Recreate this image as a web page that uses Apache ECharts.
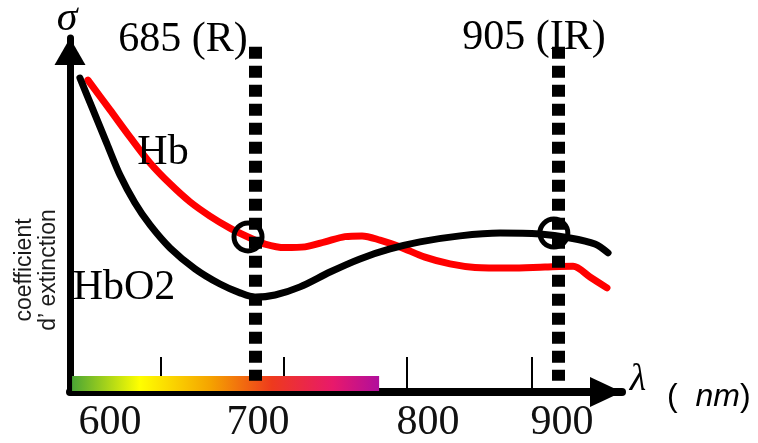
<!DOCTYPE html>
<html>
<head>
<meta charset="utf-8">
<script src="https://cdn.jsdelivr.net/npm/echarts@6/dist/echarts.min.js"></script>
<style>
  html, body { margin: 0; padding: 0; background: #fff; }
  #chart { width: 758px; height: 443px; }
</style>
</head>
<body>
<div id="chart"></div>
<script>
// wavelength (nm) / extinction (arbitrary units, 0-100)
const hbWavelength = [564.0, 580.0, 594.5, 609.0, 623.5, 638.0, 652.4, 666.9, 680.0, 692.3, 706.8, 721.3, 735.8, 750.3, 762.6, 775.6, 790.1, 808.2, 826.4, 844.5, 869.8, 895.2, 915.5, 927.8, 940.1]
const hbValues = [88.1, 79.7, 72.0, 64.7, 58.8, 53.7, 49.7, 46.3, 43.8, 41.8, 40.8, 41.0, 42.4, 43.9, 44.1, 42.9, 41.0, 38.1, 36.2, 35.2, 35.0, 35.3, 35.5, 32.5, 29.4]

const hbo2Wavelength = [558.2, 567.7, 577.8, 587.2, 598.1, 609.0, 623.5, 641.6, 659.7, 674.2, 685.1, 699.6, 717.7, 739.4, 761.1, 782.9, 804.6, 833.6, 862.6, 891.6, 913.3, 931.4, 940.9]
const hbo2Values = [88.7, 79.7, 70.1, 61.3, 53.4, 47.2, 40.7, 34.8, 30.5, 28.0, 26.8, 27.4, 29.7, 33.9, 37.6, 40.4, 42.4, 44.1, 44.9, 44.6, 43.5, 41.8, 39.3]

// the two LED wavelengths and the circled points on the curves
const ledWavelengths = [685, 905]
const circledPoints = [[680, 43.8], [901.6, 44.9]]

// axis ticks / labels as drawn (hand-made figure, labels are not under the ticks)
const xTickPos = [616.9, 706.1, 795.2, 885.8]
const xLabelPos = [580, 687.2, 810.4, 907.5]
const xTickLabels = ['600', '700', '800', '900']

// visible spectrum strip along the axis
const spectrumRange = [552.5, 775]
const spectrumHeight = [0.3, 4.5]

const toXY = (xs, ys) => xs.map((x, i) => [x, ys[i]])

const chartDom = document.getElementById('chart')
const myChart = echarts.init(chartDom)

const serif = '"Liberation Serif", "Times New Roman", serif'
const sans = '"Liberation Sans", Arial, sans-serif'

const option = {
    animation: false,
    backgroundColor: '#fff',
    grid: {
        left: 70,
        right: 136,
        top: 38,
        bottom: 51,
        containLabel: false,
        outerBoundsMode: 'none'
    },
    xAxis: {
        type: 'value',
        min: 551,
        max: 951,
        axisLine: {
            show: true,
            symbol: ['none', 'triangle'],
            symbolSize: [30, 32],
            symbolOffset: [0, -16],
            lineStyle: { color: '#000', width: 8 }
        },
        axisTick: {
            show: true,
            inside: true,
            length: 35,
            customValues: xTickPos,
            lineStyle: { color: '#000', width: 2 }
        },
        axisLabel: {
            show: true,
            customValues: xLabelPos,
            margin: 10,
            color: '#111',
            fontFamily: serif,
            fontSize: 42,
            formatter: (v) => {
                const i = xLabelPos.indexOf(v)
                return i >= 0 ? xTickLabels[i] : ''
            }
        },
        splitLine: { show: false }
    },
    yAxis: {
        type: 'value',
        min: 0,
        max: 100,
        axisLine: {
            show: true,
            symbol: ['none', 'triangle'],
            symbolSize: [31, 27],
            symbolOffset: [0, -13.5],
            lineStyle: { color: '#000', width: 7 }
        },
        axisTick: { show: false },
        axisLabel: { show: false },
        splitLine: { show: false }
    },
    series: [
        {
            name: 'Hb',
            type: 'line',
            data: toXY(hbWavelength, hbValues),
            smooth: 0.3,
            showSymbol: false,
            lineStyle: { color: '#ff0000', width: 7, cap: 'round' },
            z: 3,
            markArea: {
                silent: true,
                itemStyle: {
                    color: new echarts.graphic.LinearGradient(0, 0, 1, 0, [
                        { offset: 0, color: '#4aa535' },
                        { offset: 0.22, color: '#ffff00' },
                        { offset: 0.45, color: '#f5a300' },
                        { offset: 0.65, color: '#ee3a1d' },
                        { offset: 0.85, color: '#e8196b' },
                        { offset: 1, color: '#b10e9c' }
                    ])
                },
                data: [[
                    { xAxis: spectrumRange[0], yAxis: spectrumHeight[0] },
                    { xAxis: spectrumRange[1], yAxis: spectrumHeight[1] }
                ]]
            }
        },
        {
            name: 'HbO2',
            type: 'line',
            data: toXY(hbo2Wavelength, hbo2Values),
            smooth: 0.3,
            showSymbol: false,
            lineStyle: { color: '#000', width: 7, cap: 'round' },
            z: 3,
            markLine: {
                silent: true,
                symbol: 'none',
                label: { show: false },
                lineStyle: { color: '#000', width: 13, type: [12, 7], cap: 'butt' },
                data: ledWavelengths.map(w => [
                    { coord: [w, 97.5] },
                    { coord: [w, 3.2] }
                ])
            }
        },
        {
            name: 'points',
            type: 'scatter',
            data: circledPoints,
            symbol: 'circle',
            symbolSize: 28,
            itemStyle: { color: 'rgba(0,0,0,0)', borderColor: '#000', borderWidth: 5, opacity: 1 },
            z: 5
        }
    ],
    graphic: [
        { type: 'text', x: 67, y: 19, style: { text: 'σ', font: `italic 42px ${serif}`, fill: '#000', align: 'center', verticalAlign: 'middle' } },
        { type: 'text', x: 183, y: 40, style: { text: '685 (R)', font: `42px ${serif}`, fill: '#000', align: 'center', verticalAlign: 'middle' } },
        { type: 'text', x: 534, y: 38, style: { text: '905 (IR)', font: `42px ${serif}`, fill: '#000', align: 'center', verticalAlign: 'middle' } },
        { type: 'text', x: 163, y: 153, z: 10, style: { text: 'Hb', font: `42px ${serif}`, fill: '#000', align: 'center', verticalAlign: 'middle' } },
        { type: 'text', x: 124, y: 288, z: 10, style: { text: 'HbO2', font: `42px ${serif}`, fill: '#000', align: 'center', verticalAlign: 'middle' } },
        { type: 'text', x: 638, y: 380, style: { text: 'λ', font: `italic 38px ${serif}`, fill: '#000', align: 'center', verticalAlign: 'middle' } },
        {
            type: 'text', x: 667, y: 397,
            style: {
                text: '(  {i|nm})',
                font: `32px ${sans}`,
                fill: '#000',
                align: 'left',
                verticalAlign: 'middle',
                rich: { i: { fontStyle: 'italic', fontSize: 32, fontFamily: sans } }
            }
        },
        {
            type: 'text', x: 37, y: 270, rotation: Math.PI / 2,
            style: {
                text: 'coefficient\nd\u2019 extinction',
                font: `23px ${sans}`,
                fill: '#1a1a1a',
                align: 'center',
                verticalAlign: 'middle',
                lineHeight: 24
            }
        }
    ]
}

myChart.setOption(option)

window.addEventListener('resize', () => {
    myChart.resize()
})
</script>
</body>
</html>
